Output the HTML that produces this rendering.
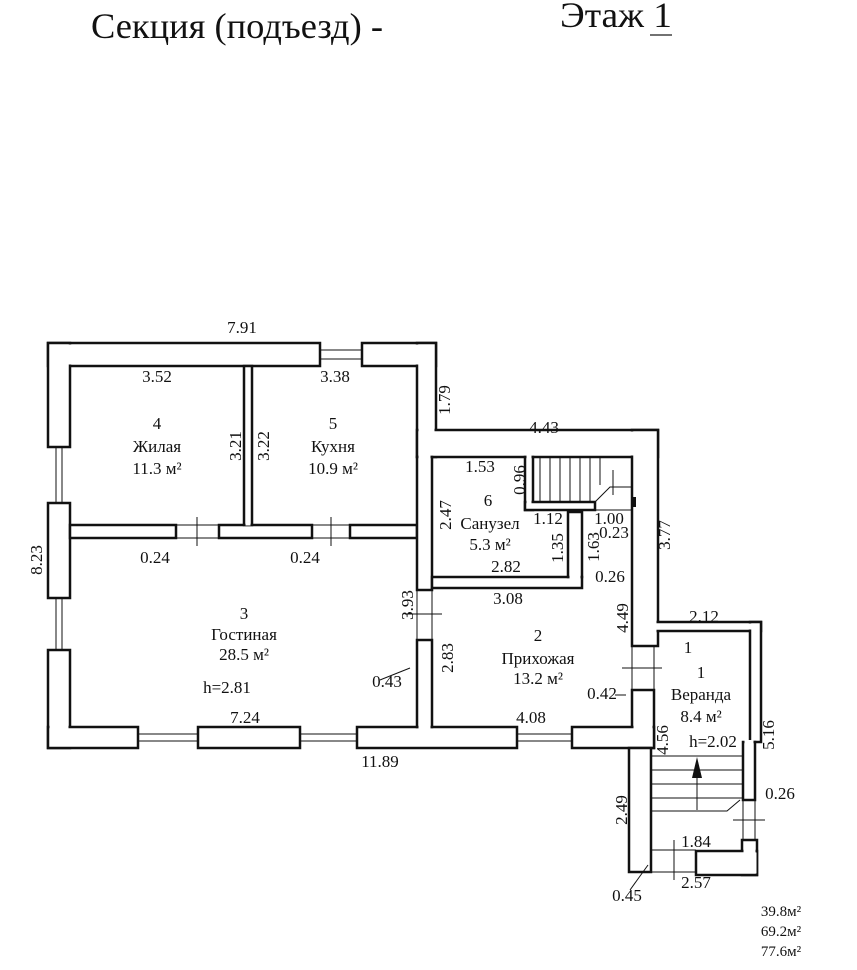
<!DOCTYPE html>
<html><head><meta charset="utf-8"><style>
html,body{margin:0;padding:0;background:#fff;}
svg{display:block}
text{font-family:"Liberation Serif","Noto Serif CJK SC",serif;fill:#111;}
</style></head><body>
<svg width="857" height="970" viewBox="0 0 857 970" xmlns="http://www.w3.org/2000/svg">
<defs>
<g id="walls">
<rect x="48" y="343" width="272" height="23"/>
<rect x="362" y="343" width="74" height="23"/>
<rect x="48" y="343" width="22" height="104"/>
<rect x="48" y="503" width="22" height="95"/>
<rect x="48" y="650" width="22" height="98"/>
<rect x="417" y="343" width="19" height="114"/>
<rect x="417" y="430" width="241" height="27"/>
<rect x="632" y="430" width="26" height="216"/>
<rect x="632" y="690" width="22" height="58"/>
<rect x="48" y="727" width="90" height="21"/>
<rect x="198" y="727" width="102" height="21"/>
<rect x="357" y="727" width="160" height="21"/>
<rect x="572" y="727" width="82" height="21"/>
<rect x="70" y="525" width="106" height="13"/>
<rect x="219" y="525" width="93" height="13"/>
<rect x="350" y="525" width="67" height="13"/>
<rect x="244" y="366" width="8" height="159"/>
<rect x="417" y="457" width="15" height="133"/>
<rect x="417" y="640" width="15" height="87"/>
<rect x="432" y="577" width="150" height="11"/>
<rect x="568" y="512" width="14" height="65"/>
<rect x="525" y="457" width="8" height="53"/>
<rect x="525" y="502" width="70" height="8"/>
<rect x="654" y="622" width="107" height="9"/>
<rect x="750" y="622" width="11" height="120"/>
<rect x="629" y="748" width="22" height="124"/>
<rect x="743" y="742" width="12" height="58"/>
<rect x="742" y="840" width="15" height="35"/>
<rect x="696" y="851" width="61" height="24"/>
</g>
</defs>
<text x="91" y="38" font-size="36" textLength="292" lengthAdjust="spacingAndGlyphs">Секция (подъезд) -</text>
<text x="560" y="27" font-size="36" textLength="112" lengthAdjust="spacingAndGlyphs">Этаж 1</text>
<line x1="650" y1="35" x2="672" y2="35" stroke="#444" stroke-width="1.5"/>
<use href="#walls" fill="#fff" stroke="#111" stroke-width="2.5"/>
<g fill="#fff">
<rect x="49.5" y="344.5" width="269" height="20"/>
<rect x="363.5" y="344.5" width="71" height="20"/>
<rect x="49.5" y="344.5" width="19" height="101"/>
<rect x="418.5" y="344.5" width="16" height="111"/>
<rect x="418.5" y="431.5" width="238" height="24"/>
<rect x="633.5" y="431.5" width="23" height="213"/>
<rect x="49.5" y="728.5" width="87" height="18"/>
<rect x="358.5" y="728.5" width="157" height="18"/>
<rect x="573.5" y="728.5" width="79" height="18"/>
<rect x="633.5" y="691.5" width="19" height="55"/>
<rect x="49.5" y="651.5" width="19" height="95"/>
<rect x="71.5" y="526.5" width="103" height="10"/>
<rect x="220.5" y="526.5" width="90" height="10"/>
<rect x="351.5" y="526.5" width="64" height="10"/>
<rect x="245.5" y="367.5" width="5" height="158"/>
<rect x="418.5" y="455" width="12" height="133.5"/>
<rect x="418.5" y="641.5" width="12" height="87"/>
<rect x="433.5" y="578.5" width="147" height="8"/>
<rect x="569.5" y="513.5" width="11" height="65"/>
<rect x="526.5" y="455" width="5" height="53.5"/>
<rect x="526.5" y="503.5" width="67" height="5"/>
<rect x="655.5" y="623.5" width="104" height="6"/>
<rect x="751.5" y="623.5" width="8" height="117"/>
<rect x="744.5" y="740" width="9" height="58.5"/>
<rect x="743.5" y="841.5" width="12" height="32"/>
<rect x="697.5" y="852.5" width="59" height="21"/>
</g>
<g fill="none" stroke="#111" stroke-width="1">
<line x1="320" y1="350" x2="362" y2="350"/><line x1="320" y1="359" x2="362" y2="359"/>
<line x1="56" y1="447" x2="56" y2="503"/><line x1="62" y1="447" x2="62" y2="503"/>
<line x1="56" y1="598" x2="56" y2="650"/><line x1="62" y1="598" x2="62" y2="650"/>
<line x1="138" y1="734" x2="198" y2="734"/><line x1="138" y1="741" x2="198" y2="741"/>
<line x1="300" y1="734" x2="357" y2="734"/><line x1="300" y1="741" x2="357" y2="741"/>
<line x1="517" y1="734" x2="572" y2="734"/><line x1="517" y1="741" x2="572" y2="741"/>
<line x1="176" y1="525" x2="219" y2="525"/><line x1="176" y1="538" x2="219" y2="538"/>
<line x1="312" y1="525" x2="350" y2="525"/><line x1="312" y1="538" x2="350" y2="538"/>
<line x1="197" y1="517" x2="197" y2="546"/><line x1="331" y1="517" x2="331" y2="546"/>
<line x1="417" y1="590" x2="417" y2="640"/><line x1="432" y1="590" x2="432" y2="640"/>
<line x1="405" y1="614" x2="442" y2="614"/>
<line x1="632" y1="646" x2="632" y2="690"/><line x1="654" y1="646" x2="654" y2="690"/>
<line x1="622" y1="668" x2="662" y2="668"/>
<line x1="540" y1="457" x2="540" y2="502"/><line x1="550" y1="457" x2="550" y2="502"/>
<line x1="560" y1="457" x2="560" y2="502"/><line x1="570" y1="457" x2="570" y2="502"/>
<line x1="580" y1="457" x2="580" y2="502"/><line x1="590" y1="457" x2="590" y2="502"/>
<line x1="600" y1="457" x2="600" y2="485"/>
<polyline points="595,502 610,487 632,487"/>
<line x1="595" y1="510" x2="632" y2="510"/>
<line x1="613" y1="470" x2="613" y2="495"/>
<line x1="651" y1="756" x2="743" y2="756"/>
<line x1="651" y1="770" x2="743" y2="770"/>
<line x1="651" y1="784" x2="743" y2="784"/>
<line x1="651" y1="798" x2="743" y2="798"/>
<polyline points="651,811 727,811 740,800"/>
<line x1="697" y1="760" x2="697" y2="810"/>
<line x1="651" y1="850" x2="696" y2="850"/>
<line x1="651" y1="872" x2="696" y2="872"/>
<line x1="674" y1="840" x2="674" y2="880"/>
<line x1="743" y1="800" x2="743" y2="840"/><line x1="755" y1="800" x2="755" y2="840"/>
<line x1="733" y1="820" x2="765" y2="820"/>
<line x1="648" y1="865" x2="630" y2="890"/>
<line x1="410" y1="668" x2="380" y2="680"/>
<line x1="626" y1="695" x2="615" y2="695"/>
</g>
<polygon points="697,757 692,778 702,778" fill="#111"/>
<rect x="632" y="497" width="4" height="10" fill="#111"/>
<g font-size="17" text-anchor="middle">
<text x="242" y="333">7.91</text>
<text x="157" y="382">3.52</text>
<text x="335" y="382">3.38</text>
<text x="544" y="433">4.43</text>
<text x="157" y="429">4</text><text x="157" y="452">Жилая</text><text x="157" y="474">11.3 м²</text>
<text x="333" y="429">5</text><text x="333" y="452">Кухня</text><text x="333" y="474">10.9 м²</text>
<text x="155" y="563">0.24</text><text x="305" y="563">0.24</text>
<text x="244" y="619">3</text><text x="244" y="640">Гостиная</text><text x="244" y="660">28.5 м²</text>
<text x="227" y="693">h=2.81</text>
<text x="245" y="723">7.24</text>
<text x="380" y="767">11.89</text>
<text x="387" y="687">0.43</text>
<text x="480" y="472">1.53</text>
<text x="488" y="506">6</text><text x="490" y="529">Санузел</text><text x="490" y="550">5.3 м²</text>
<text x="548" y="524">1.12</text>
<text x="609" y="524">1.00</text>
<text x="614" y="538">0.23</text>
<text x="506" y="572">2.82</text>
<text x="610" y="582">0.26</text>
<text x="508" y="604">3.08</text>
<text x="538" y="641">2</text><text x="538" y="664">Прихожая</text><text x="538" y="684">13.2 м²</text>
<text x="602" y="699">0.42</text>
<text x="531" y="723">4.08</text>
<text x="704" y="622">2.12</text>
<text x="688" y="653">1</text>
<text x="701" y="678">1</text>
<text x="701" y="700">Веранда</text>
<text x="701" y="722">8.4 м²</text>
<text x="713" y="747">h=2.02</text>
<text x="780" y="799">0.26</text>
<text x="696" y="847">1.84</text>
<text x="696" y="888">2.57</text>
<text x="627" y="901">0.45</text>
<text x="781" y="916" font-size="15">39.8м²</text>
<text x="781" y="936" font-size="15">69.2м²</text>
<text x="781" y="956" font-size="15">77.6м²</text>
</g>
<g font-size="17" text-anchor="middle">
<text transform="translate(450,400) rotate(-90)">1.79</text>
<text transform="translate(241,446) rotate(-90)">3.21</text>
<text transform="translate(269,446) rotate(-90)">3.22</text>
<text transform="translate(42,560) rotate(-90)">8.23</text>
<text transform="translate(451,515) rotate(-90)">2.47</text>
<text transform="translate(525,480) rotate(-90)">0.96</text>
<text transform="translate(563,548) rotate(-90)">1.35</text>
<text transform="translate(599,547) rotate(-90)">1.63</text>
<text transform="translate(670,535) rotate(-90)">3.77</text>
<text transform="translate(413,605) rotate(-90)">3.93</text>
<text transform="translate(453,658) rotate(-90)">2.83</text>
<text transform="translate(628,618) rotate(-90)">4.49</text>
<text transform="translate(668,740) rotate(-90)">4.56</text>
<text transform="translate(774,735) rotate(-90)">5.16</text>
<text transform="translate(627,810) rotate(-90)">2.49</text>
</g>
</svg>
</body></html>
